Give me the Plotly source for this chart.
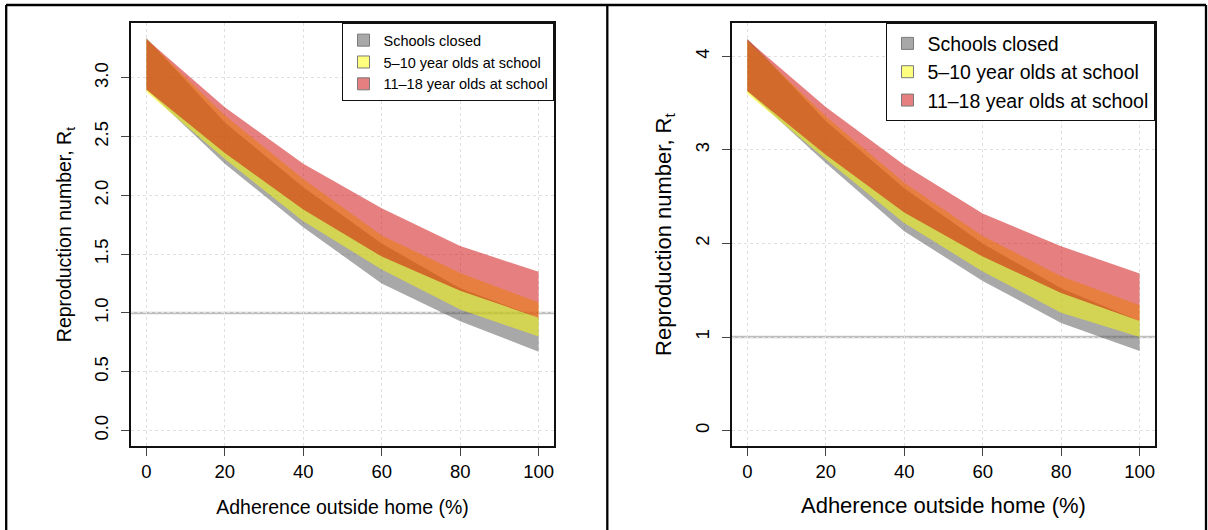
import plotly.graph_objects as go

# ---------------- data ----------------
adherence = [0, 20, 40, 60, 80, 100]
scenario_names = ["Schools closed", "5\u201310 year olds at school", "11\u201318 year olds at school"]

# Left panel: lower / upper bounds of Rt
left_closed_lo = [2.90, 2.27, 1.73, 1.25, 0.93, 0.67]
left_closed_hi = [3.34, 2.62, 2.07, 1.59, 1.21, 0.96]
left_primary_lo = [2.88, 2.31, 1.78, 1.37, 1.03, 0.80]
left_primary_hi = [3.33, 2.68, 2.14, 1.66, 1.34, 1.09]
left_secondary_lo = [2.90, 2.36, 1.88, 1.48, 1.19, 0.96]
left_secondary_hi = [3.33, 2.75, 2.27, 1.89, 1.57, 1.35]

# Right panel
right_closed_lo = [3.63, 2.86, 2.13, 1.60, 1.15, 0.85]
right_closed_hi = [4.19, 3.31, 2.59, 2.00, 1.52, 1.17]
right_primary_lo = [3.60, 2.90, 2.22, 1.70, 1.26, 1.00]
right_primary_hi = [4.17, 3.36, 2.65, 2.08, 1.65, 1.34]
right_secondary_lo = [3.63, 2.95, 2.33, 1.86, 1.47, 1.17]
right_secondary_hi = [4.18, 3.46, 2.84, 2.32, 1.97, 1.68]

x_ticks = [0, 20, 40, 60, 80, 100]
left_y_ticks = [0.0, 0.5, 1.0, 1.5, 2.0, 2.5, 3.0]
right_y_ticks = [0, 1, 2, 3, 4]
threshold = 1.0

# ---------------- style ----------------
FONT = "Liberation Sans, Arial, Helvetica, sans-serif"
colors = ["rgba(82,82,82,0.5)", "rgba(255,255,0,0.5)", "rgba(205,0,0,0.5)"]
W, H = 1208, 530

fig = go.Figure()

panels = [
    dict(xa="x", ya="y", lg="legend",
         bands=[(left_closed_lo, left_closed_hi), (left_primary_lo, left_primary_hi),
                (left_secondary_lo, left_secondary_hi)]),
    dict(xa="x2", ya="y2", lg="legend2",
         bands=[(right_closed_lo, right_closed_hi), (right_primary_lo, right_primary_hi),
                (right_secondary_lo, right_secondary_hi)]),
]

for p in panels:
    for (lo, hi), col, name in zip(p["bands"], colors, scenario_names):
        fig.add_trace(go.Scatter(
            x=adherence + adherence[::-1], y=hi + lo[::-1],
            fill="toself", fillcolor=col, mode="none", hoverinfo="skip",
            name=name, showlegend=False, xaxis=p["xa"], yaxis=p["ya"]))
    for col, name in zip(colors, scenario_names):
        fig.add_trace(go.Bar(
            x=[None], y=[None], name=name, legend=p["lg"],
            marker=dict(color=col, line=dict(color="#7a7a7a", width=1)),
            xaxis=p["xa"], yaxis=p["ya"], showlegend=True))

def xdom(a, b):
    return [a / W, b / W]

ydom = [1 - 446.2 / H, 1 - 23 / H]

common_axis = dict(
    showline=True, mirror=True, linecolor="#111111", linewidth=1.5,
    ticks="outside", ticklen=8, tickwidth=1.3, tickcolor="#444444",
    showgrid=True, gridcolor="#e0e0e0", griddash="dot", gridwidth=1,
    zeroline=False, color="black",
)

fig.update_layout(
    width=W, height=H,
    margin=dict(l=0, r=0, t=0, b=0),
    paper_bgcolor="white", plot_bgcolor="white",
    font=dict(family=FONT, color="black"),
    barmode="overlay",
    xaxis=dict(common_axis, domain=xdom(130.7, 554.3), range=[-4, 104], anchor="y",
               tickvals=x_ticks, tickfont=dict(size=18.5),
               title=dict(text="Adherence outside home (%)", font=dict(size=19.5), standoff=19)),
    yaxis=dict(common_axis, domain=ydom, range=[-0.1333, 3.4667], anchor="x",
               tickvals=left_y_ticks, tickformat=".1f", tickangle=-90, tickfont=dict(size=18.5),
               ticklabelstandoff=6,
               title=dict(text="Reproduction number, R<sub>t</sub>", font=dict(size=19.5), standoff=14)),
    xaxis2=dict(common_axis, domain=xdom(731.6, 1155.3), range=[-4, 104], anchor="y2",
                tickvals=x_ticks, tickfont=dict(size=18.5),
                title=dict(text="Adherence outside home (%)", font=dict(size=22), standoff=16)),
    yaxis2=dict(common_axis, domain=ydom, range=[-0.1676, 4.3576], anchor="x2",
                tickvals=right_y_ticks, tickangle=-90, tickfont=dict(size=18.5),
                ticklabelstandoff=5,
                title=dict(text="Reproduction number, R<sub>t</sub>", font=dict(size=22), standoff=15)),
    legend=dict(x=554.3 / W, xanchor="right", y=1 - 23 / H, yanchor="top",
                bgcolor="white", bordercolor="#111111", borderwidth=1.2,
                font=dict(size=14.5), itemwidth=30, tracegroupgap=0,
                itemclick=False, itemdoubleclick=False),
    legend2=dict(x=1155.3 / W, xanchor="right", y=1 - 23 / H, yanchor="top",
                 bgcolor="white", bordercolor="#111111", borderwidth=1.2,
                 font=dict(size=19.5), itemwidth=30, tracegroupgap=0,
                 itemclick=False, itemdoubleclick=False),
)

# Reference line at Rt = 1 (drawn beneath the translucent bands)
for xr, yr in [("x domain", "y"), ("x2 domain", "y2")]:
    fig.add_shape(type="line", xref=xr, yref=yr, x0=0, x1=1, y0=threshold, y1=threshold,
                  line=dict(color="#bebebe", width=2.5), layer="below")

# Outer frame of the two-panel figure
frame = dict(color="black", width=2.3)
fig.add_shape(type="line", xref="paper", yref="paper", x0=6 / W, x1=1206 / W,
              y0=1 - 5 / H, y1=1 - 5 / H, line=frame)
for px in (6.2, 607.3, 1206):
    fig.add_shape(type="line", xref="paper", yref="paper", x0=px / W, x1=px / W,
                  y0=0, y1=1 - 5 / H, line=frame)

fig.write_html(
    "out.html",
    config={"displayModeBar": False},
    post_script="document.body.style.margin='0px';document.body.style.overflow='hidden';",
)
